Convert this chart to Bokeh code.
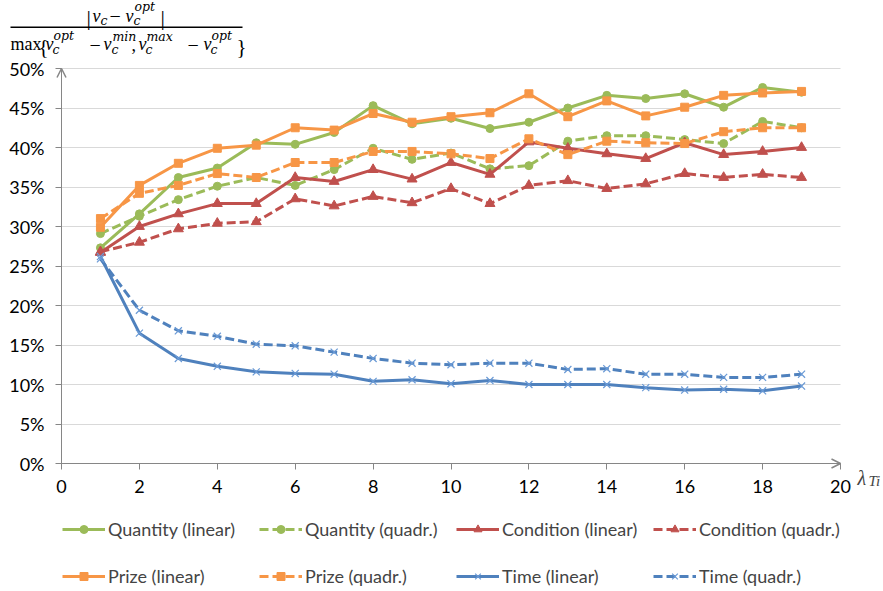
from bokeh.plotting import figure
from bokeh.models import (Range1d, FixedTicker, PrintfTickFormatter, Legend, LegendItem,
                          Label, Arrow, OpenHead, BoxAnnotation)
from bokeh.embed import file_html
from bokeh.resources import INLINE

# ---------------- data (percent) ----------------
lambda_ti = list(range(1, 20))
quantity_linear = [27.3, 31.6, 36.2, 37.4, 40.6, 40.4, 41.9, 45.3, 43.0, 43.7, 42.4, 43.2, 45.0, 46.6, 46.2, 46.8, 45.1, 47.6, 47.0]
quantity_quadr = [29.1, 31.3, 33.4, 35.1, 36.2, 35.2, 37.2, 39.9, 38.5, 39.3, 37.3, 37.7, 40.8, 41.5, 41.5, 41.0, 40.5, 43.3, 42.5]
condition_linear = [26.7, 30.0, 31.6, 32.9, 32.9, 36.2, 35.7, 37.2, 36.0, 38.1, 36.6, 40.7, 39.9, 39.2, 38.6, 40.6, 39.1, 39.5, 40.0]
condition_quadr = [26.8, 28.0, 29.7, 30.4, 30.6, 33.5, 32.6, 33.8, 33.0, 34.8, 32.9, 35.2, 35.8, 34.8, 35.4, 36.7, 36.2, 36.6, 36.2]
prize_linear = [29.9, 35.2, 38.0, 39.9, 40.3, 42.5, 42.2, 44.3, 43.2, 43.9, 44.4, 46.8, 43.9, 45.9, 44.0, 45.1, 46.6, 46.9, 47.1]
prize_quadr = [31.0, 34.2, 35.2, 36.7, 36.2, 38.1, 38.1, 39.5, 39.5, 39.2, 38.6, 41.1, 39.1, 40.8, 40.6, 40.5, 42.0, 42.5, 42.5]
time_linear = [26.2, 16.5, 13.3, 12.3, 11.6, 11.4, 11.3, 10.4, 10.6, 10.1, 10.5, 10.0, 10.0, 10.0, 9.6, 9.3, 9.4, 9.2, 9.8]
time_quadr = [25.9, 19.4, 16.8, 16.1, 15.1, 14.9, 14.1, 13.3, 12.7, 12.5, 12.7, 12.7, 11.9, 12.0, 11.3, 11.3, 10.9, 10.9, 11.3]

x_ticks = list(range(0, 21, 2))
y_ticks = list(range(0, 51, 5))
x_min, x_max = 0, 20
y_min, y_max = 0, 50

series = [
    ("Quantity (linear)", quantity_linear, "#9BBB59", "solid", "circle"),
    ("Quantity (quadr.)", quantity_quadr, "#9BBB59", "dashed", "circle"),
    ("Condition (linear)", condition_linear, "#C0504D", "solid", "triangle"),
    ("Condition (quadr.)", condition_quadr, "#C0504D", "dashed", "triangle"),
    ("Prize (linear)", prize_linear, "#F79646", "solid", "square"),
    ("Prize (quadr.)", prize_quadr, "#F79646", "dashed", "square"),
    ("Time (linear)", time_linear, "#4F81BD", "solid", "x"),
    ("Time (quadr.)", time_quadr, "#4F81BD", "dashed", "x"),
]

W, H = 883, 591
FONT = "Lato"
FSIZE = "18px"
AX = "#868686"
MATH = "Liberation Serif"
SCRIPT = "DejaVu Serif"

# plotting area in page pixels: x 0..20 -> 61..840, y 0..50 -> 463..68
PX_L, PX_R, PX_T, PX_B = 61, 840, 68, 463
kx = (PX_R - PX_L) / (x_max - x_min)
ky = (PX_B - PX_T) / (y_max - y_min)
xr = Range1d(x_min - PX_L / kx, x_max + (W - PX_R) / kx)
yr = Range1d(y_min - (H - PX_B) / ky, y_max + PX_T / ky)

p = figure(width=W, height=H, output_backend="svg", toolbar_location=None,
           x_range=xr, y_range=yr, min_border=0)
p.min_border_left = p.min_border_right = p.min_border_top = p.min_border_bottom = 0
p.outline_line_color = None
p.background_fill_color = "white"
p.border_fill_color = "white"

p.xgrid.visible = False
p.ygrid.grid_line_color = "#D9D9D9"
p.ygrid.grid_line_width = 1
p.ygrid.ticker = FixedTicker(ticks=y_ticks)
p.ygrid.bounds = (y_min, y_max)
try:
    p.ygrid.cross_bounds = (x_min, x_max)
except Exception:
    pass

for ax in (p.xaxis[0], p.yaxis[0]):
    ax.fixed_location = 0
    ax.axis_line_color = AX
    ax.axis_line_width = 1
    ax.major_tick_line_color = AX
    ax.major_tick_out = 6
    ax.major_tick_in = 0
    ax.minor_tick_line_color = None
    ax.major_label_text_font = FONT
    ax.major_label_text_font_size = FSIZE
    ax.major_label_text_color = "#000000"

p.xaxis[0].ticker = FixedTicker(ticks=x_ticks)
p.xaxis[0].bounds = (x_min, x_max)
p.xaxis[0].major_label_standoff = 10
p.yaxis[0].ticker = FixedTicker(ticks=y_ticks)
p.yaxis[0].bounds = (y_min, y_max)
p.yaxis[0].formatter = PrintfTickFormatter(format="%d%%")
p.yaxis[0].major_label_standoff = 11

items = []
for label, vals, color, dash, marker in series:
    dash_val = "9 4" if dash == "dashed" else "solid"
    lr = p.line(lambda_ti, vals, line_color=color, line_width=3, line_dash=dash_val)
    if marker == "x":
        sr = p.scatter(lambda_ti, vals, marker="x", size=10, line_color="#6A9AD6", line_width=1.2)
    else:
        msize = 10 if marker == "triangle" else 8
        sr = p.scatter(lambda_ti, vals, marker=marker, size=msize, fill_color=color, line_color=color)
    items.append(LegendItem(label=label, renderers=[lr, sr]))

def make_legend(its, row_center):
    lg = Legend(items=its, orientation="horizontal", location=(62, H - row_center - 10),
                glyph_width=43, glyph_height=20, label_standoff=3, label_width=150,
                label_height=20, spacing=1, padding=0, margin=0,
                label_text_font=FONT, label_text_font_size=FSIZE,
                border_line_color=None, background_fill_alpha=0)
    p.add_layout(lg, "center")

make_legend(items[:4], 530)
make_legend(items[4:], 577)

# axis arrows
p.add_layout(Arrow(end=OpenHead(size=9, line_color=AX, line_width=1.5), line_color=AX, line_width=1,
                   x_start=x_min, y_start=y_min, x_end=x_min, y_end=y_max))
p.add_layout(Arrow(end=OpenHead(size=9, line_color=AX, line_width=1.5), line_color=AX, line_width=1,
                   x_start=x_min, y_start=y_min, x_end=x_max, y_end=y_min))

# lambda_Ti axis label
p.add_layout(Label(x=x_max, y=y_min, x_offset=17, y_offset=-14, text="λ", text_font=MATH,
                   text_font_style="italic", text_font_size="20px", text_baseline="alphabetic"))
p.add_layout(Label(x=x_max, y=y_min, x_offset=28, y_offset=-17, text="Ti", text_font=MATH,
                   text_font_style="italic", text_font_size="15px", text_baseline="alphabetic"))

# formula (top-left), positions in page pixels measured from top
def sy(y_top):
    return H - y_top

def lab(text, x, y, size, italic=True, font=MATH):
    p.add_layout(Label(x=x, y=sy(y), x_units="screen", y_units="screen", text=text,
                       text_font=font, text_font_style="italic" if italic else "normal",
                       text_font_size=size, text_baseline="alphabetic", text_color="#000000"))

MAIN, SMALL, BIG, MINUS = "18px", "12.5px", "22px", "20px"
# numerator
lab("|", 86, 17, BIG, False)
lab("v", 92, 15, MAIN)
lab("c", 100, 20, SMALL, font=SCRIPT)
lab("−", 109, 15.5, MINUS, False)
lab("v", 125, 15, MAIN)
lab("opt", 134, 6, SMALL, font=SCRIPT)
lab("c", 133, 20, SMALL, font=SCRIPT)
lab("|", 160, 17, BIG, False)
# fraction bar
p.add_layout(BoxAnnotation(left=10, right=242, top=sy(26), bottom=sy(27.5),
                           left_units="screen", right_units="screen",
                           top_units="screen", bottom_units="screen",
                           fill_color="#000000", fill_alpha=1, line_color=None))
# denominator
lab("max", 10, 43.5, MAIN, False)
lab("{", 38, 46, "21px", False)
lab("v", 45, 43.5, MAIN)
lab("opt", 53, 35, SMALL, font=SCRIPT)
lab("c", 52, 48.5, SMALL, font=SCRIPT)
lab("−", 89, 44, MINUS, False)
lab("v", 103, 43.5, MAIN)
lab("min", 112, 35.5, SMALL, font=SCRIPT)
lab("c", 111, 48.5, SMALL, font=SCRIPT)
lab(",", 131, 43.5, MAIN, False)
lab("v", 138, 43.5, MAIN)
lab("max", 146, 36, SMALL, font=SCRIPT)
lab("c", 145, 48.5, SMALL, font=SCRIPT)
lab("−", 187, 44, MINUS, False)
lab("v", 203, 43.5, MAIN)
lab("opt", 211, 35, SMALL, font=SCRIPT)
lab("c", 210, 48.5, SMALL, font=SCRIPT)
lab("}", 236, 46, "21px", False)

open("out.html", "w").write(file_html(p, INLINE))
